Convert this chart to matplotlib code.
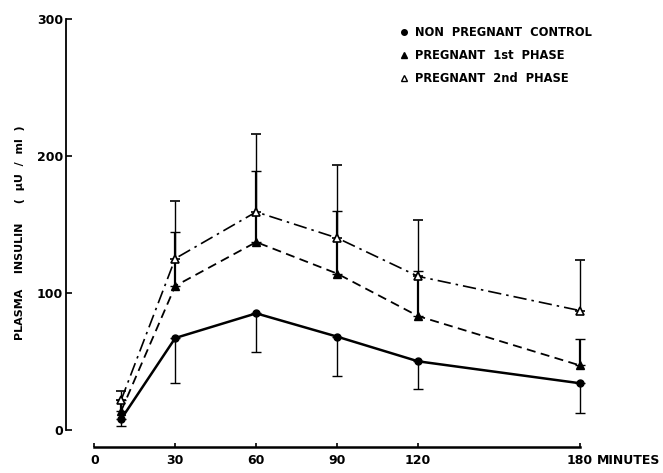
import matplotlib.pyplot as plt
from matplotlib.lines import Line2D

# valeurs (insuline plasmatique, µU/ml)
minutes = [10, 30, 60, 90, 120, 180]

controle = [8, 67, 85, 68, 50, 34]
controle_err = [5, 33, 28, 29, 20, 22]      # barres vers le bas

phase1 = [14, 105, 137, 114, 83, 47]
phase1_err = [8, 39, 52, 46, 33, 19]        # barres vers le haut

phase2 = [22, 125, 159, 140, 112, 87]
phase2_err = [6, 42, 57, 53, 41, 37]        # barres vers le haut

x_ticks = [0, 30, 60, 90, 120, 180]
x_labels = ['0', '30', '60', '90', '120', '180']
y_ticks = [0, 100, 200, 300]

plt.rcParams['font.family'] = ['DejaVu Sans']

fig = plt.figure(figsize=(6.63, 4.73), dpi=100)
ax = fig.add_axes([0.0995, 0.055, 0.816, 0.907])

zeros = [0] * len(minutes)
ax.errorbar(minutes, controle, yerr=[controle_err, zeros], color='black',
            lw=1.8, ecolor='black', elinewidth=1, capsize=3.5, capthick=1,
            marker='o', markersize=5, zorder=3)
ax.errorbar(minutes, phase1, yerr=[zeros, phase1_err], color='black',
            lw=1.3, ls=(0, (5, 3)), ecolor='black', elinewidth=1.6,
            capsize=3.5, capthick=1, marker='^', markersize=6, zorder=3)
ax.errorbar(minutes, phase2, yerr=[zeros, phase2_err], color='black',
            lw=1.2, ls=(0, (8, 3, 1.5, 3)), ecolor='black', elinewidth=1,
            capsize=3.5, capthick=1, marker='^', markersize=6,
            markerfacecolor='white', markeredgewidth=1.2, zorder=4)

ax.set_xlim(-10.5, 190)
ax.set_ylim(-12.5, 300.5)

for s in ['top', 'right']:
    ax.spines[s].set_visible(False)
ax.spines['left'].set_bounds(0, 300)
ax.spines['bottom'].set_bounds(0, 180)
ax.spines['left'].set_linewidth(1.3)
ax.spines['bottom'].set_linewidth(1.8)

ax.set_yticks(y_ticks)
ax.set_yticklabels([str(v) for v in y_ticks], fontsize=9, fontweight='bold')
ax.set_xticks(x_ticks)
ax.set_xticklabels(x_labels, fontsize=9, fontweight='bold')
ax.tick_params(axis='y', direction='in', length=4, width=1.2, pad=2)
ax.tick_params(axis='x', direction='in', length=3, width=1.2, pad=5)

ax.annotate('MINUTES', xy=(180, -12.5), xycoords='data',
            xytext=(12, -5), textcoords='offset points', fontsize=9,
            fontweight='bold', ha='left', va='top', annotation_clip=False)

ax.set_ylabel('PLASMA    INSULIN     (  µU  /  ml  )',
              fontsize=8, fontweight='bold')
ax.yaxis.set_label_coords(-0.075, 0.5)

handles = [
    Line2D([], [], color='black', marker='o', ls='none', markersize=4),
    Line2D([], [], color='black', marker='^', ls='none', markersize=5),
    Line2D([], [], color='black', marker='^', ls='none', markersize=5,
           markerfacecolor='white'),
]
labels = ['NON  PREGNANT  CONTROL', 'PREGNANT  1st  PHASE', 'PREGNANT  2nd  PHASE']
leg = ax.legend(handles, labels, loc='upper left', bbox_to_anchor=(0.6, 1.005),
                frameon=False, handlelength=0.6, handletextpad=0.6,
                labelspacing=0.85, prop={'size': 8.3, 'weight': 'bold'})

fig.savefig('out.png', dpi=100)
